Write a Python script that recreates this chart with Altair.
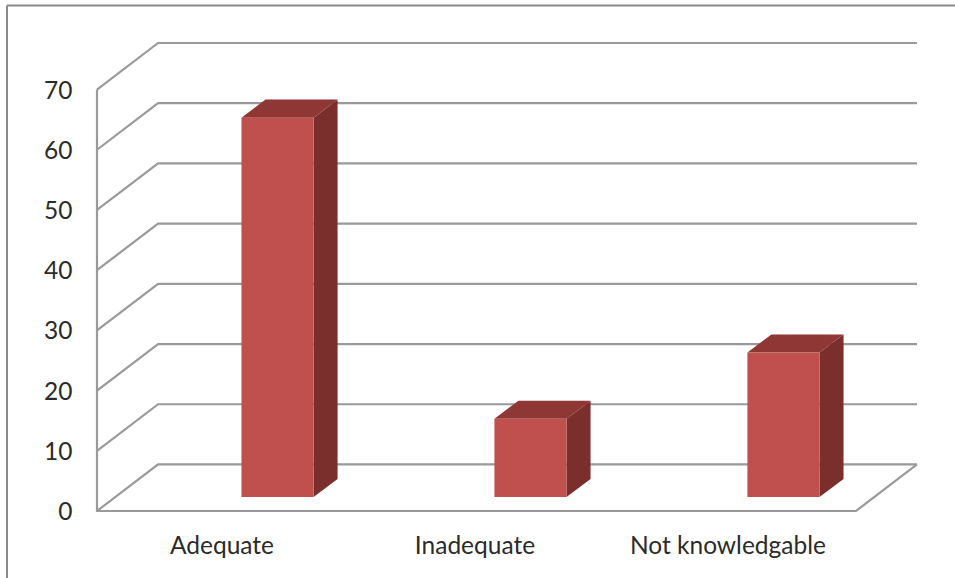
import altair as alt
import pandas as pd

# Survey responses shown as pseudo-3D columns
categories = ["Adequate", "Inadequate", "Not knowledgable"]
values = [63, 13, 24]
y_ticks = [0, 10, 20, 30, 40, 50, 60, 70]

# Oblique projection, in data units: one category across, one percent up
DEPTH_X = 0.2414
DEPTH_Y = 7.73
BAR_START = 0.571
BAR_WIDTH = 0.285
BAR_BASE = 2.33
BAR_DEPTH_X = 0.095
BAR_DEPTH_Y = 3.0

GRID = "#9a9a9a"
FRONT = "#c0504d"
SIDE = "#7b2f2d"
TOP = "#8e3735"
TEXT = "#2b2b2b"
FONT = "Lato"

n = len(categories)

# Wall and back-plane gridlines, plus the floor outline
grid_rows = []
for v in y_ticks:
    path = [(0, v), (DEPTH_X, v + DEPTH_Y), (n + DEPTH_X, v + DEPTH_Y)]
    for i, (px, py) in enumerate(path):
        grid_rows.append({"line": f"g{v}", "step": i, "x": px, "y": py})
axis_path = [(0, 70), (0, 0), (n, 0), (n + DEPTH_X, DEPTH_Y)]
for i, (px, py) in enumerate(axis_path):
    grid_rows.append({"line": "axis", "step": i, "x": px, "y": py})
grid_df = pd.DataFrame(grid_rows)

front_rows, side_rows, top_rows = [], [], []
for i, (name, val) in enumerate(zip(categories, values)):
    left = i + BAR_START
    right = left + BAR_WIDTH
    low = BAR_BASE
    high = BAR_BASE + val
    front_rows.append({"cat": name, "x": left, "x2": right, "y": low, "y2": high})
    side_rows += [
        {"cat": name, "x": right, "y": low, "y2": high},
        {"cat": name, "x": right + BAR_DEPTH_X, "y": low + BAR_DEPTH_Y, "y2": high + BAR_DEPTH_Y},
    ]
    top_rows += [
        {"cat": name, "y": high, "x": left, "x2": right},
        {"cat": name, "y": high + BAR_DEPTH_Y, "x": left + BAR_DEPTH_X, "x2": right + BAR_DEPTH_X},
    ]
front_df = pd.DataFrame(front_rows)
side_df = pd.DataFrame(side_rows)
top_df = pd.DataFrame(top_rows)

x_scale = alt.Scale(domain=[0, n + DEPTH_X], nice=False, zero=False)
y_scale = alt.Scale(domain=[0, 70 + DEPTH_Y], nice=False, zero=False)

label_lookup = "[" + ",".join(f"'{c}'" for c in categories) + "]"
x_axis = alt.Axis(
    values=[i + 0.5 for i in range(n)],
    labelExpr=f"{label_lookup}[datum.value - 0.5]",
    title=None, grid=False, domain=False, ticks=False,
    labelPadding=35, labelOffset=-2, labelFontSize=24.5, labelFont=FONT,
    labelColor=TEXT, labelFontWeight="normal", labelBaseline="middle",
    labelOverlap=False, labelBound=False, labelLimit=400,
)
y_axis = alt.Axis(
    values=y_ticks, title=None, grid=False, domain=False, ticks=False,
    labelPadding=25, labelOffset=1.5, labelFontSize=24.5, labelFont=FONT, labelColor=TEXT,
)

x_enc = alt.X("x:Q", scale=x_scale, axis=x_axis)
y_enc = alt.Y("y:Q", scale=y_scale, axis=y_axis)

grid_layer = alt.Chart(grid_df).mark_line(color=GRID, strokeWidth=2.2, strokeJoin="miter").encode(
    x=x_enc, y=y_enc, detail="line:N", order="step:Q",
)

side_layer = alt.Chart(side_df).mark_area(color=SIDE, orient="vertical").encode(
    x=x_enc, y=y_enc, y2="y2:Q", detail="cat:N",
)

top_layer = alt.Chart(top_df).mark_area(color=TOP, orient="horizontal").encode(
    y=y_enc, x=x_enc, x2="x2:Q", detail="cat:N",
)

front_layer = alt.Chart(front_df).mark_rect(color=FRONT).encode(
    x=x_enc, x2="x2:Q", y=y_enc, y2="y2:Q",
)

# Outer border of the chart area, running off the page to the right and bottom
frame_top = alt.Chart(pd.DataFrame({"k": [0]})).mark_rule(color="#8a8a8a", strokeWidth=2).encode(
    x=alt.value(-90), x2=alt.value(870), y=alt.value(-37.5)
)
frame_left = alt.Chart(pd.DataFrame({"k": [0]})).mark_rule(color="#8a8a8a", strokeWidth=2).encode(
    x=alt.value(-90), y=alt.value(-37.5), y2=alt.value(540)
)

chart = (
    alt.layer(grid_layer, side_layer, top_layer, front_layer, frame_top, frame_left)
    .properties(
        width=820,
        height=468,
        background="white",
        padding={"left": 97, "top": 43, "right": 38, "bottom": 67},
        autosize=alt.AutoSizeParams(type="none"),
    )
    .configure_view(stroke=None)
)

chart.save("out.html", embed_options={"renderer": "svg", "actions": False})
